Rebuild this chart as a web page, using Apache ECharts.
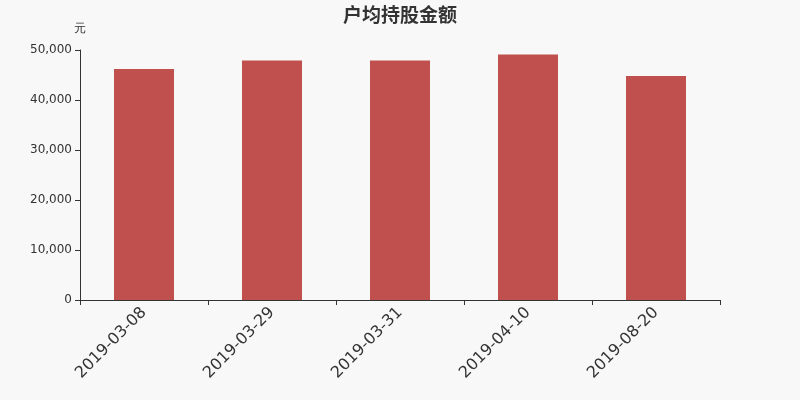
<!DOCTYPE html>
<html><head><meta charset="utf-8">
<script src="https://cdn.jsdelivr.net/npm/echarts@6/dist/echarts.min.js"></script>
<style>html,body{margin:0;padding:0;background:#f8f8f8}#c{width:800px;height:400px}</style>
</head><body><div id="c"></div>
<script>
var categories = ['2019-03-08','2019-03-29','2019-03-31','2019-04-10','2019-08-20'];
var values = [46200, 47900, 47900, 49100, 44800];
var chart = echarts.init(document.getElementById('c'));
chart.setOption({
  backgroundColor: '#f8f8f8',
  animation: false,
  title: {text: '户均持股金额', left: 'center', top: 0, textStyle: {fontSize: 19, fontWeight: 'bold', color: '#333', fontFamily: 'Noto Sans CJK SC'}},
  grid: {left: 80, right: 80, top: 50, bottom: 100},
  xAxis: {type: 'category', data: categories,
    axisLine: {lineStyle: {color: '#333'}}, axisTick: {show: true, alignWithLabel: false, length: 5, lineStyle: {color: '#333'}},
    axisLabel: {rotate: 45, fontSize: 16, color: '#333', margin: 10, fontFamily: 'DejaVu Sans'}},
  yAxis: {type: 'value', name: '元', min: 0, max: 50000, interval: 10000,
    nameTextStyle: {color: '#333', fontSize: 12, padding: [0, 0, 0, 0]}, nameGap: 15,
    axisLine: {show: true, lineStyle: {color: '#333'}}, axisTick: {show: true, length: 5, lineStyle: {color: '#333'}},
    splitLine: {show: false},
    axisLabel: {color: '#333', fontSize: 12, fontFamily: 'DejaVu Sans'}},
  series: [{type: 'bar', data: values, barWidth: 60, itemStyle: {color: '#c0504e'}}]
});
</script></body></html>
